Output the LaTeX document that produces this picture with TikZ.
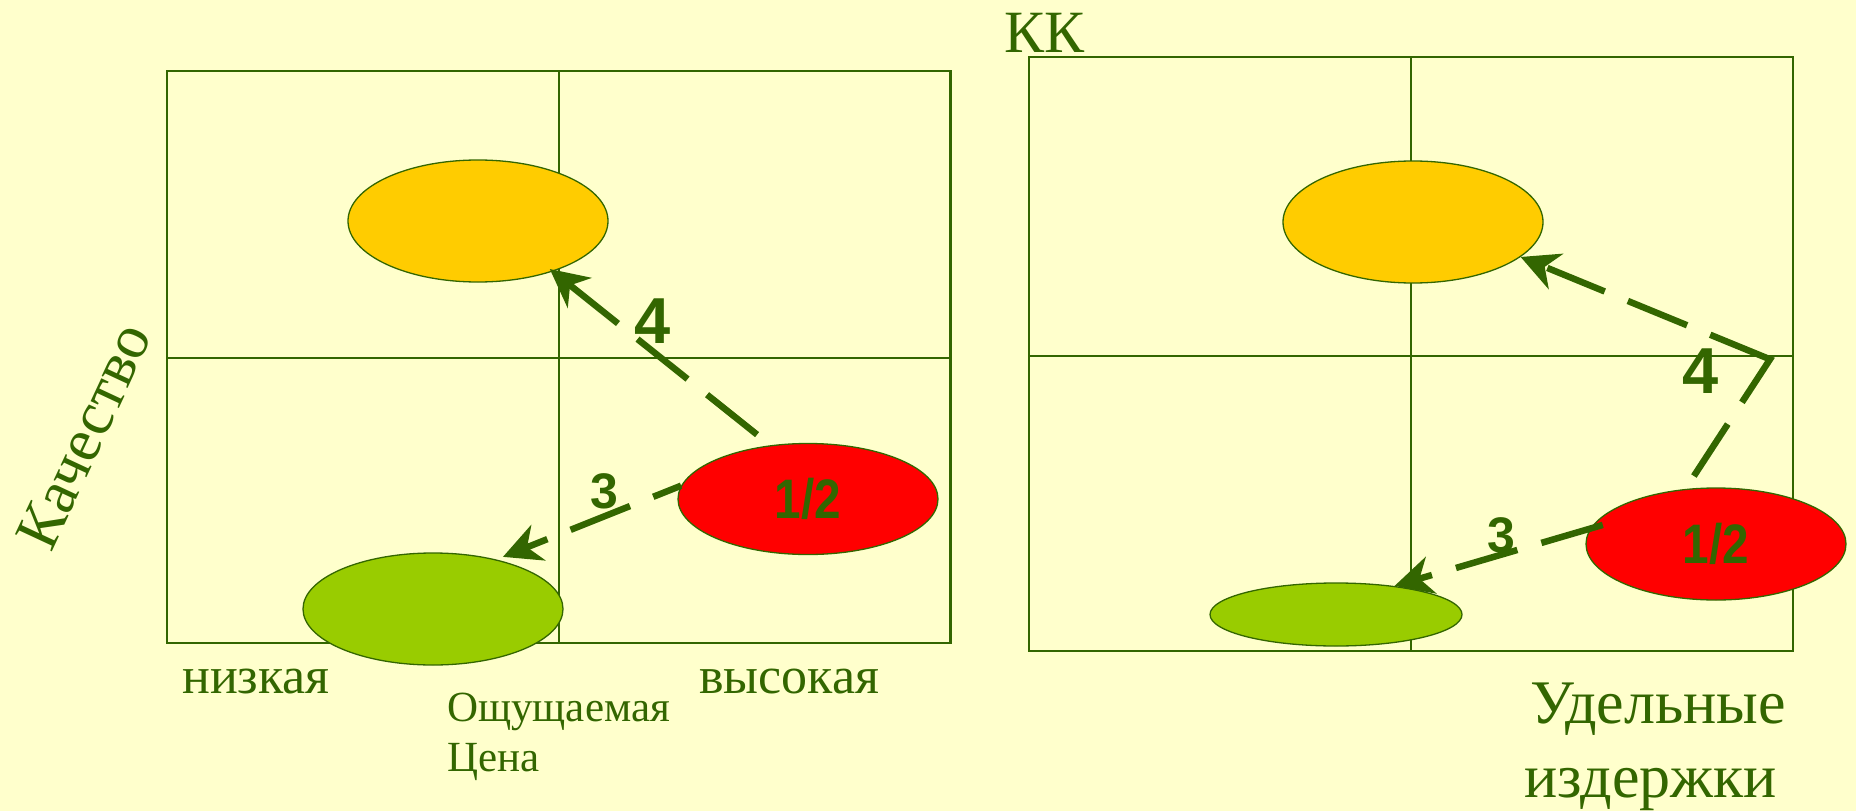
\documentclass[tikz,border=0pt]{standalone}
\usepackage{fontspec}
\setmainfont{Liberation Serif}
\newfontfamily\arialfont{Liberation Sans}
\usetikzlibrary{arrows.meta,shapes.geometric}
\definecolor{bg}{HTML}{FFFFCC}
\definecolor{dg}{HTML}{336600}
\definecolor{orng}{HTML}{FFCC00}
\definecolor{rd}{HTML}{FF0000}
\definecolor{lgreen}{HTML}{99CC00}
\begin{document}
\begin{tikzpicture}[x=1pt,y=-1pt,
  blob/.style={ellipse, draw=dg, line width=1.3pt, inner sep=0pt},
  arr/.style={draw=dg, line width=6.5pt, dash pattern=on 64pt off 25pt,
    -{Stealth[length=38pt,width=38pt,inset=12pt]}},
  lbl/.style={text=dg, inner sep=0pt, font=\fontsize{#1}{#1}\selectfont},
  num/.style={text=dg, font=\arialfont\bfseries\fontsize{#1}{#1}\selectfont},
  grid/.style={draw=dg, line width=#1},
]
\fill[bg] (0,0) rectangle (1856,811);
\useasboundingbox (0,0) rectangle (1856,811);

% left grid
\draw[grid=2.5pt] (167,71) rectangle (950.5,643);
\draw[grid=1.8pt] (559,71) -- (559,643);
\draw[grid=2.5pt] (167,358) -- (950.5,358);
% right grid
\draw[grid=2pt] (1029,56.5) rectangle (1793,650.5);
\draw[grid=2pt] (1410.5,56.5) -- (1410.5,650.5);
\draw[grid=2pt] (1029,355.5) -- (1793,355.5);

% ellipses left
\node[blob, fill=orng, minimum width=260pt, minimum height=122pt] (oL) at (478,221) {};
\node[blob, fill=rd, minimum width=260pt, minimum height=111pt, num=53] (rL) at (808,499) {\scalebox{0.9}[1.05]{1/2}};
\node[blob, fill=lgreen, minimum width=260pt, minimum height=112pt] (gL) at (433,609) {};
% ellipses right
\node[blob, fill=orng, minimum width=260pt, minimum height=122pt] (oR) at (1413,222) {};
\node[blob, fill=rd, minimum width=260pt, minimum height=112pt, num=53] (rR) at (1716,544) {\scalebox{0.9}[1.05]{1/2}};
\node[blob, fill=lgreen, minimum width=252pt, minimum height=63pt] (gR) at (1336,614.5) {};

% arrows
\draw[arr, shorten <=17pt, shorten >=-4pt] (rL.125.4) -- (oL.-34.8);
\draw[arr, dash phase=34pt, shorten >=7pt] (rL.174.7) -- (gL.38.9);
\coordinate (cR) at (1770,359.3);
\draw[arr, dash pattern=on 62pt off 26pt on 116pt off 25pt on 64pt off 25pt, shorten <=15.4pt]
  (rR.119.8) -- (cR) -- (oR.-18.1);
\draw[arr, shorten <=-13pt] (rR.173) -- (gR.26.5);

% numbers
\node[num=65] (n4L) at (652.8,321) {4};
\node[num=65] (n4R) at (1701,371) {4};
\node[num=50] (n3L) at (604,491) {3};
\node[num=50] (n3R) at (1501.5,535.5) {3};

% texts
\node[lbl=60, anchor=base west] (kk) at (1004,52) {КК};
\node[lbl=62, rotate=65] (qual) at (84,436) {Качество};
\node[lbl=52, anchor=base west] (low) at (182,693) {низкая};
\node[lbl=52, anchor=base west] (high) at (699,693) {высокая};
\node[lbl=43, anchor=base west] (price1) at (447,721) {Ощущаемая};
\node[lbl=43, anchor=base west] (price2) at (447,771) {Цена};
\node[lbl=62, anchor=base west] (cost1) at (1530,723) {Удельные};
\node[lbl=62, anchor=base west] (cost2) at (1524,797) {издержки};
\end{tikzpicture}
\end{document}
